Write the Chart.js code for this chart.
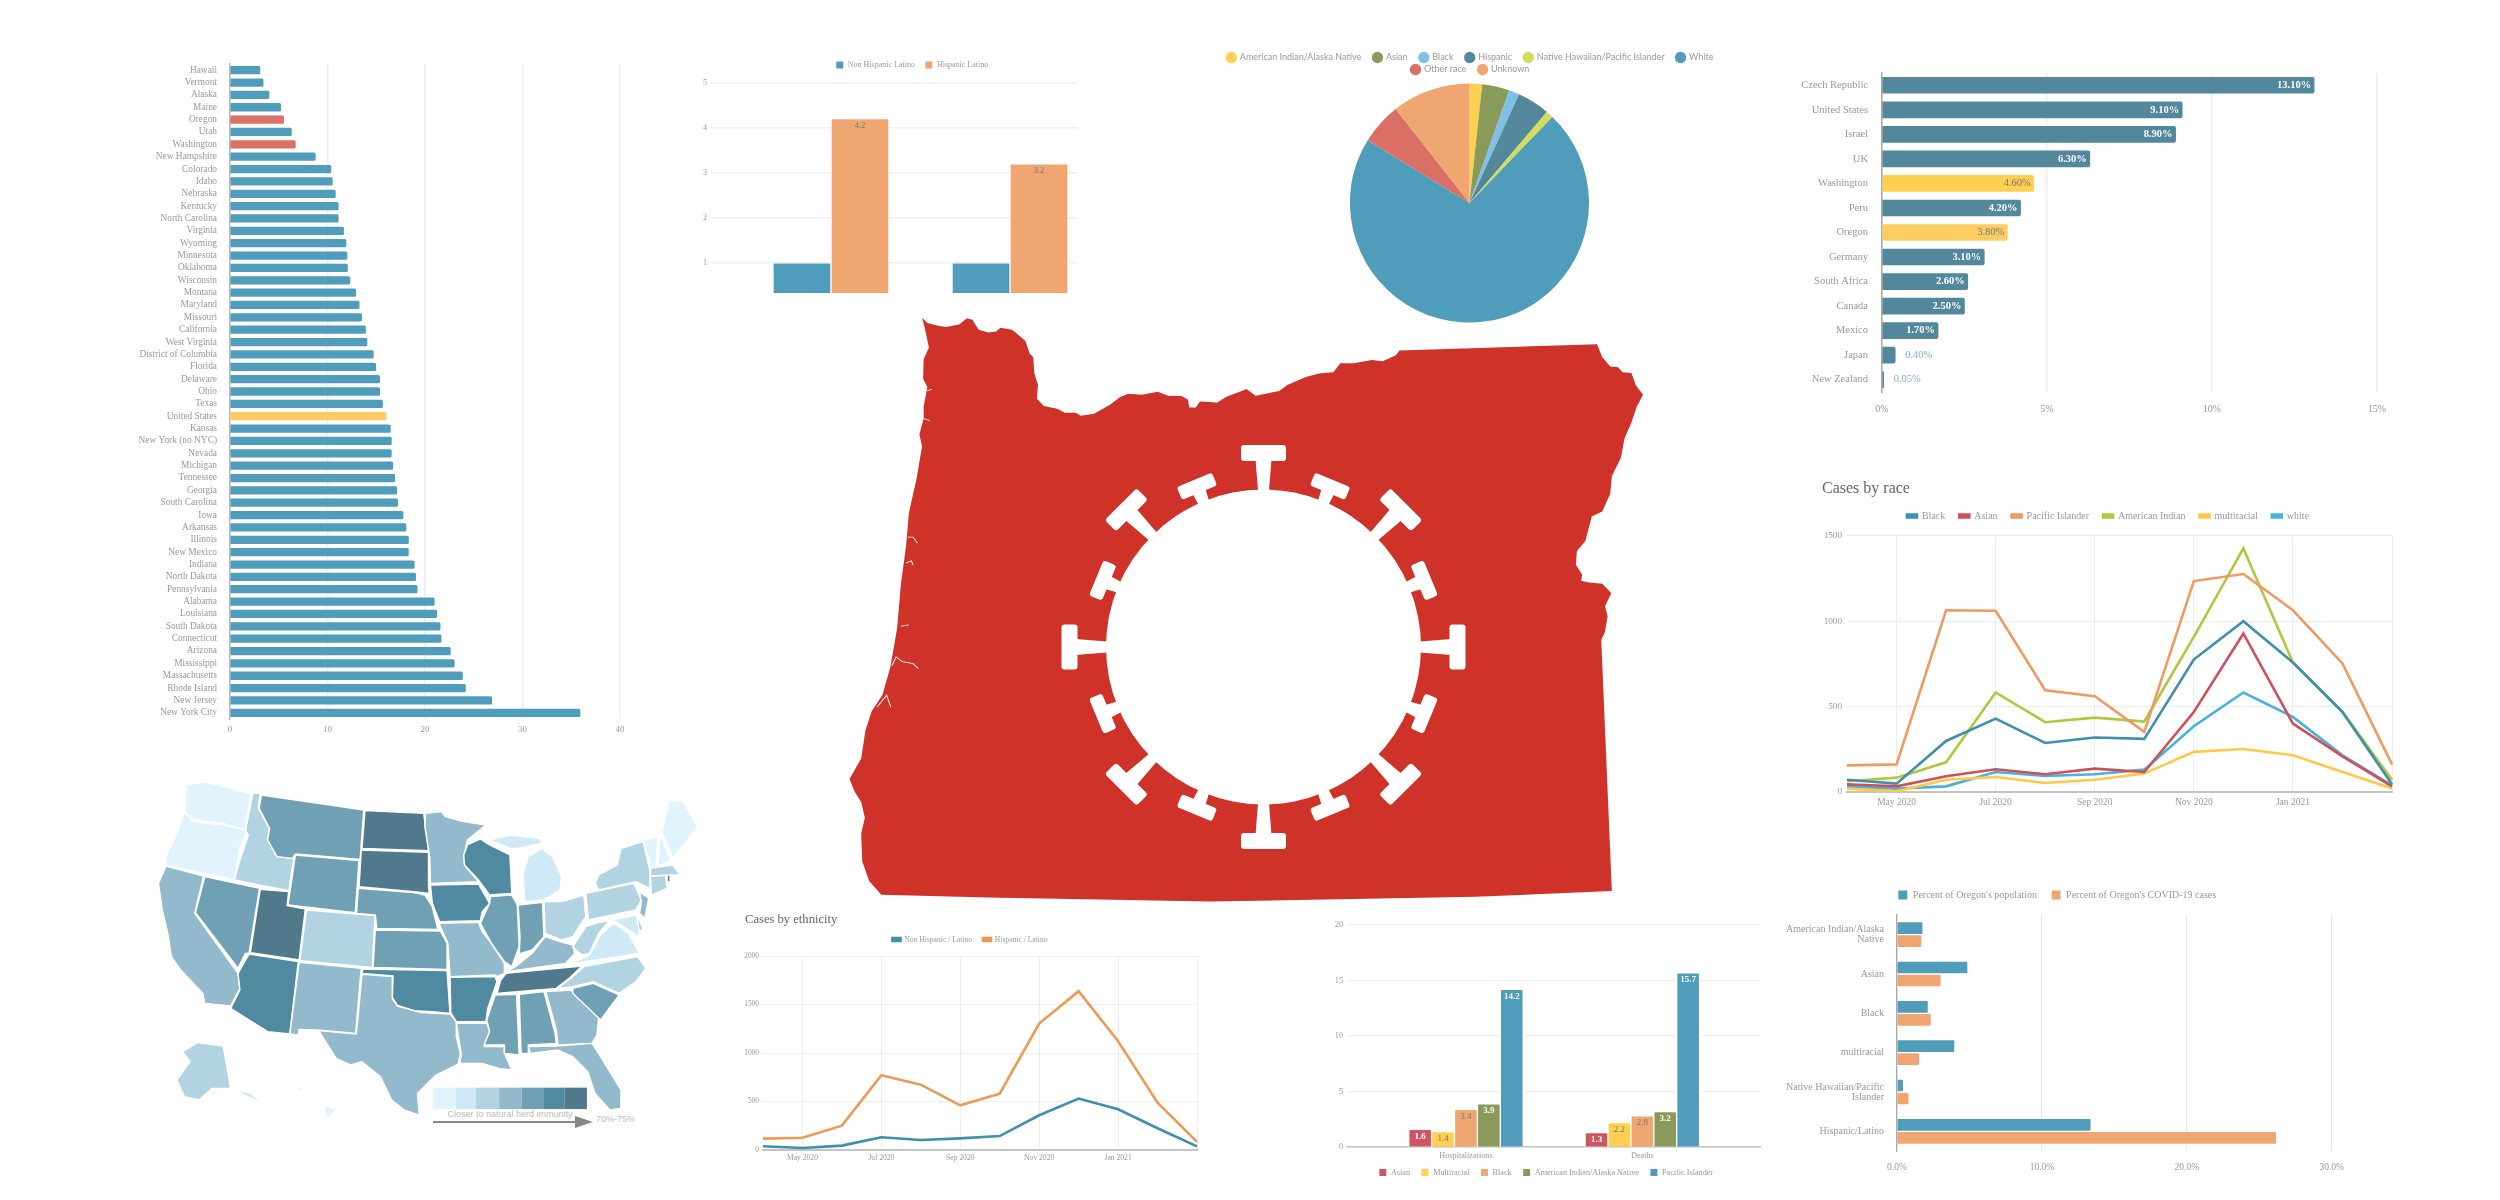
<!DOCTYPE html>
<html><head><meta charset="utf-8">
<script src="https://cdn.jsdelivr.net/npm/chart.js@4"></script>
<style>
html,body{margin:0;padding:0;background:#fff}
#page{position:relative;width:2500px;height:1200px;overflow:hidden;background:#fff}
#art{position:absolute;left:0;top:0}
canvas{position:absolute;filter:blur(.45px)}
</style></head><body><div id="page"><svg id="art" width="2500" height="1200" viewBox="0 0 2500 1200" xmlns="http://www.w3.org/2000/svg"></svg></div>
<script>
// ---------- data ----------
const stateNames=["Hawaii","Vermont","Alaska","Maine","Oregon","Utah","Washington","New Hampshire","Colorado","Idaho","Nebraska","Kentucky","North Carolina","Virginia","Wyoming","Minnesota","Oklahoma","Wisconsin","Montana","Maryland","Missouri","California","West Virginia","District of Columbia","Florida","Delaware","Ohio","Texas","United States","Kansas","New York (no NYC)","Nevada","Michigan","Tennessee","Georgia","South Carolina","Iowa","Arkansas","Illinois","New Mexico","Indiana","North Dakota","Pennsylvania","Alabama","Louisiana","South Dakota","Connecticut","Arizona","Mississippi","Massachusetts","Rhode Island","New Jersey","New York City"];
const stateValues=[3.07,3.4,4.0,5.2,5.5,6.3,6.7,8.75,10.35,10.5,10.8,11.1,11.1,11.65,11.9,12.0,12.05,12.3,12.9,13.25,13.5,13.9,14.05,14.7,14.95,15.35,15.35,15.65,16.0,16.45,16.55,16.55,16.7,16.9,17.1,17.2,17.75,18.05,18.3,18.3,18.9,19.05,19.2,20.95,21.2,21.55,21.65,22.6,23.0,23.85,24.15,26.85,35.9];

const ethnicityBarLabels=[1,2];
const nonHispanicRatio=[1,1];
const hispanicRatio=[4.2,3.2];

const pieLabels=["American Indian/Alaska Native","Asian","Black","Hispanic","Native Hawaiian/Pacific Islander","White","Other race","Unknown"];
const pieValues=[1.7,3.7,1.4,4.4,1.0,71.6,5.6,10.6];
const pieColors=["#ffcf50","#8a9a5b","#7fc1e6","#52879c","#d4dc5a","#4f9dba","#da6f66","#efa671"];

const countries=["Czech Republic","United States","Israel","UK","Washington","Peru","Oregon","Germany","South Africa","Canada","Mexico","Japan","New Zealand"];
const countryValues=[13.1,9.1,8.9,6.3,4.6,4.2,3.8,3.1,2.6,2.5,1.7,0.4,0.05];

const months=["Apr 2020","May 2020","Jun 2020","Jul 2020","Aug 2020","Sep 2020","Oct 2020","Nov 2020","Dec 2020","Jan 2021","Feb 2021","Mar 2021"];
const monthTicks=["May 2020","Jul 2020","Sep 2020","Nov 2020","Jan 2021"];
const raceBlack=[72,49,299,430,287,319,311,776,1001,759,469,45];
const raceAsian=[45,33,92,133,104,137,117,469,929,401,209,33];
const racePacific=[156,162,1065,1062,596,561,352,1236,1277,1065,753,162];
const raceAmIndian=[63,84,174,583,409,436,413,909,1427,759,469,72];
const raceMulti=[20,4,72,88,53,72,108,235,252,215,117,20];
const raceWhite=[33,20,33,117,94,104,131,385,583,440,215,39];

const nonHispanicCases=[38,21,45,131,103,120,144,358,530,420,224,38];
const hispanicCases=[117,127,251,771,674,461,581,1304,1637,1121,488,83];

const shareGroups=[["American Indian/Alaska","Native"],"Asian","Black","multiracial",["Native Hawaiian/Pacific","Islander"],"Hispanic/Latino"];
const sharePopulation=[1.8,4.9,2.17,4.0,0.46,13.4];
const shareCases=[1.73,3.06,2.38,1.57,0.84,26.2];

const outcomeGroups=["Hospitalizations","Deaths"];
const outcomeAsian=[1.6,1.3];
const outcomeMulti=[1.4,2.2];
const outcomeBlack=[3.4,2.8];
const outcomeAmIndian=[3.9,3.2];
const outcomePacific=[14.2,15.7];

const mapLevels=["#e1f4fe","#cfe9f6","#b2d3e2","#93b9cc","#6fa0b4","#4f8aa0","#50798c"];
const mapLegendText="Closer to natural herd immunity";
const mapLegendEnd="70%-75%";

// ---------- illustration geometry (not chart data) ----------
const oregonOutline="155,45 165,58 185,65 200,68 225,62 240,46 250,50 262,75 280,82 295,80 303,70 325,75 350,103 358,135 365,145 367,185 374,215 372,250 385,268 410,275 425,285 445,285 455,293 480,288 510,265 530,245 545,237 570,240 600,232 620,242 645,243 657,252 660,272 672,272 680,257 700,258 712,260 730,245 755,232 768,225 785,242 830,230 845,215 880,195 905,186 932,183 945,160 970,160 1005,152 1025,155 1050,140 1057,128 1430,112 1440,145 1455,168 1470,170 1478,183 1495,185 1503,215 1517,240 1505,270 1495,310 1482,350 1475,400 1458,445 1455,490 1440,535 1420,548 1408,610 1392,635 1390,670 1402,695 1400,710 1415,715 1440,718 1457,742 1445,775 1450,800 1445,840 1438,860 1458,1495 1200,1510 700,1522 300,1512 78,1505 55,1470 42,1420 40,1350 47,1310 40,1270 28,1245 18,1212 40,1160 48,1090 60,1040 80,1000 95,930 108,830 115,720 125,620 130,540 145,450 155,370 150,340 158,300 158,270 165,220 157,200 158,150 168,120 160,70";
const usShapes=[
[0,"125,75 175,65 300,100 285,210 225,190 145,180 120,155"],
[0,"120,155 145,185 225,195 290,212 270,265 255,360 70,315 70,290 100,220"],
[3,"70,318 172,348 148,460 265,640 270,685 245,738 175,730 170,700 110,630 85,590 75,520 60,450 50,370"],
[4,"175,350 323,385 295,580 285,580 265,625 150,458"],
[2,"305,100 325,100 320,145 350,205 345,240 370,290 415,295 403,392 255,360 270,300 293,225 285,212"],
[4,"328,105 605,150 595,298 420,282 412,295 370,290 345,240 350,205 322,145"],
[4,"420,285 592,302 582,458 400,435"],
[6,"325,388 402,395 398,437 447,447 430,600 298,578"],
[2,"450,450 635,467 628,622 432,602"],
[5,"295,582 428,605 405,822 345,815 245,745 270,690 265,640 280,610"],
[3,"430,607 598,625 583,820 480,810 430,808 428,825 405,822"],
[6,"608,152 767,160 780,272 600,265"],
[6,"598,270 780,277 780,375 782,400 740,395 592,380"],
[4,"590,385 740,398 770,405 790,440 805,508 640,505 636,465 585,460"],
[4,"636,510 812,513 830,550 830,628 630,622"],
[5,"602,627 830,632 838,760 790,755 740,752 695,735 682,712 684,648 600,640"],
[3,"600,643 682,650 682,715 695,738 760,758 838,762 855,785 855,830 866,880 860,912 800,945 750,1000 755,1065 715,1050 680,1020 650,950 600,905 570,915 530,895 483,812 585,822"],
[3,"772,160 815,155 825,170 875,185 935,195 885,240 875,290 880,320 915,365 785,370 783,290 770,200"],
[5,"785,375 915,372 945,430 925,455 920,482 810,485 790,430"],
[3,"808,490 915,487 925,515 950,550 985,610 985,640 965,650 960,645 838,650 832,550"],
[5,"838,652 960,650 965,665 940,745 935,785 855,785 840,758"],
[3,"855,790 938,790 945,815 930,860 985,860 985,880 1005,930 970,925 925,910 865,910 868,880"],
[5,"885,255 920,237 945,255 1000,285 1005,400 945,405 915,360 877,315 875,285"],
[4,"947,410 1005,405 1020,435 1025,560 1005,620 985,605 950,550 920,490 945,430"],
[4,"1022,435 1088,427 1092,530 1060,570 1025,582 1027,530"],
[1,"1050,290 1085,265 1115,290 1140,350 1135,390 1090,420 1040,425 1035,340"],
[1,"945,240 1000,225 1080,235 1085,250 1020,265 1000,265"],
[2,"1092,425 1140,425 1200,405 1205,470 1170,530 1140,540 1095,520"],
[3,"1015,620 1060,580 1095,530 1135,545 1170,555 1175,580 1150,610 990,635"],
[6,"990,640 1195,618 1160,655 1125,685 965,700 975,660"],
[4,"960,705 1018,703 1025,885 985,880 985,855 930,855 945,815 937,780"],
[4,"1025,703 1092,695 1122,820 1125,850 1050,855 1050,880 1030,880"],
[3,"1097,695 1165,690 1240,770 1235,825 1222,850 1130,855 1125,810"],
[3,"1050,860 1125,858 1222,850 1245,890 1300,990 1300,1045 1270,1050 1230,1000 1210,935 1170,890 1130,870 1055,880"],
[4,"1170,685 1225,670 1295,705 1245,780 1170,700"],
[2,"1130,685 1165,655 1200,620 1345,590 1368,625 1340,665 1295,700 1225,665 1170,680"],
[1,"1165,612 1215,585 1245,525 1280,490 1320,520 1350,580"],
[2,"1170,560 1205,500 1240,487 1270,480 1240,520 1215,580 1195,585 1172,565"],
[2,"1205,400 1335,370 1355,420 1340,450 1212,480"],
[2,"1230,370 1240,345 1290,315 1300,265 1360,245 1378,330 1378,385 1340,365 1240,390"],
[3,"1350,395 1375,415 1365,475 1350,460 1355,425"],
[1,"1240,487 1345,465 1350,530 1320,510 1280,480"],
[2,"1342,465 1360,505 1350,515"],
[2,"1380,350 1420,345 1425,385 1382,405"],
[6,"1425,345 1433,345 1433,365 1425,365"],
[2,"1380,325 1440,315 1460,345 1435,345 1380,348"],
[0,"1360,240 1400,230 1395,320 1380,322"],
[0,"1405,220 1435,300 1400,320"],
[0,"1410,215 1430,125 1465,120 1508,200 1440,295"],
[2,"115,875 155,848 225,858 245,985 195,985 160,1020 120,1010 100,960 135,905"],
[1,"250,985 300,1000 330,1030 290,1010"],
[0,"500,1035 530,1050 510,1075 498,1060"],
[0,"425,975 445,990 430,995"],
[0,"375,955 390,960 380,965"]
];

function drawArt(){
  const red="#ce3228";
  let s=`<g transform="translate(840,300) scale(${1/1.889},${1/2.53})"><polygon points="${oregonOutline}" fill="${red}"/>
  <path d="M128,600 l10,0 l8,15 M125,665 l10,-5 l3,10 M115,825 l15,-3 M98,925 l8,-22 l12,12 l20,5 l10,12 M70,1030 l18,-30 l8,30 M158,300 l12,5 M165,230 l8,-4" stroke="#fff" stroke-width="2" fill="none"/></g>`;
  s+=`<g transform="translate(1263.5,647)"><circle r="157.5" fill="#fff"/>`;
  for(let i=0;i<16;i++){
    const big=i%2===0, a=i*22.5;
    s+= big
     ? `<g transform="rotate(${a})"><polygon points="-5,-150 5,-150 8,-188 -8,-188" fill="#fff"/><rect x="-22.5" y="-202" width="45" height="16" rx="3" fill="#fff"/></g>`
     : `<g transform="rotate(${a})"><polygon points="-5,-150 5,-150 7,-170 -7,-170" fill="#fff"/><rect x="-19" y="-181" width="38" height="14" rx="3" fill="#fff"/></g>`;
  }
  s+=`</g>`;
  // US map
  s+=`<g transform="translate(140,760) scale(${1/2.703},${1/3})">`;
  usShapes.forEach(([lv,p])=>{s+=`<polygon points="${p}" fill="${mapLevels[lv]}" stroke="#fff" stroke-width="4" stroke-linejoin="round"/>`;});
  const edges=[792,853,908,971,1032,1092,1147,1208];
  mapLevels.forEach((c,i)=>{s+=`<rect x="${edges[i]}" y="983" width="${edges[i+1]-edges[i]}" height="64" fill="${c}"/>`;});
  s+=`</g>`;
  s+=`<text x="510" y="1117" text-anchor="middle" font-family="Liberation Sans" font-size="9" fill="#bbb">${mapLegendText}</text>`;
  s+=`<line x1="433" y1="1122" x2="580" y2="1122" stroke="#888" stroke-width="2"/><polygon points="575,1116 593,1122 575,1128" fill="#888"/>`;
  s+=`<text x="596" y="1122" font-family="Liberation Sans" font-size="9" fill="#bbb">${mapLegendEnd}</text>`;
  document.getElementById('art').innerHTML=s;
}
drawArt();

// ---------- chart helpers ----------
const serif='"Liberation Serif"';
Chart.defaults.animation=false;
Chart.defaults.responsive=false;
Chart.defaults.font.family=serif;

function place(left,top,legendPos,titlePos){
  return {id:'place',
    beforeLayout(chart){
      const l=chart.legend,t=chart.titleBlock;
      if(l&&!l._wrapped){const f=l.fit;l.fit=function(){f.call(this);this._nh=this.height;this.height=0;};l._wrapped=true;}
      if(t&&!t._wrapped){const f=t.update;t.update=function(a,b,c){f.call(this,a,b,c);this._nh=this.height;this.height=0;};t._wrapped=true;}
    },
    afterLayout(chart){
      if(legendPos&&chart.legend){const l=chart.legend,w=l.width;
        l.left=legendPos[0]-left-w/2;l.right=l.left+w;l.top=legendPos[1]-top-l._nh/2;l.bottom=l.top+l._nh;}
      if(titlePos&&chart.titleBlock){const t=chart.titleBlock;
        t.left=titlePos[0]-left;t.right=t.left+300;t.top=titlePos[1]-top-t._nh/2;t.bottom=t.top+t._nh;}
    }};
}
function make(o){
  const {left,top,plot,axisH=20,rightPad=15,config}=o;
  const c=document.createElement('canvas');
  c.width=Math.round(plot.r+rightPad-left);c.height=Math.round(plot.b+axisH-top);
  c.style.left=left+'px';c.style.top=top+'px';
  document.getElementById('page').appendChild(c);
  const opt=config.options=config.options||{};
  opt.layout={padding:{top:plot.t-top,right:rightPad,left:0,bottom:0}};
  if(opt.scales){
    opt.scales.y.afterFit=s=>{s.width=plot.l-left;};
    opt.scales.x.afterFit=s=>{s.height=axisH;};
  }
  config.plugins=(config.plugins||[]).concat([place(left,top,o.legend,o.title)]);
  return new Chart(c.getContext('2d'),config);
}
function labelPlugin(draw){
  return {id:'valueLabels',afterDatasetsDraw(chart){
    const ctx=chart.ctx;ctx.save();
    chart.data.datasets.forEach((ds,i)=>{
      chart.getDatasetMeta(i).data.forEach((el,j)=>draw(ctx,el,ds.data[j],i,j));
    });
    ctx.restore();
  }};
}
const gridC="#eeeeee", txt="#999999";
function tickFont(size){return {family:serif,size};}
function lineDS(label,data,color){return {label,data,borderColor:color,backgroundColor:color,borderWidth:2.6,pointRadius:0,tension:0,borderJoinStyle:'miter'};}
function monthAxis(size,pad){return {type:'category',offset:false,
  afterBuildTicks:s=>{s.ticks=s.ticks.filter(t=>monthTicks.includes(months[t.value])||t.value===months.length-1);},
  ticks:{autoSkip:false,maxRotation:0,font:tickFont(size),color:txt,padding:pad,callback:v=>monthTicks.includes(months[v])?months[v]:''},
  grid:{color:gridC,drawTicks:false,offset:false},border:{color:"#c4c4c4",width:2}};}

// 1. states horizontal bars
make({left:125,top:40,plot:{l:230,t:64,r:620,b:719},axisH:20,config:{type:'bar',
  data:{labels:stateNames,datasets:[{data:stateValues,barThickness:7.6,borderRadius:1.5,
    backgroundColor:stateNames.map(n=>n==="Oregon"||n==="Washington"?"#dd6f64":n==="United States"?"#fdcb62":"#4f9dba")}]},
  options:{indexAxis:'y',plugins:{legend:{display:false},tooltip:{enabled:false}},
    scales:{x:{min:0,max:40,ticks:{stepSize:10,font:tickFont(9),color:txt,padding:5},grid:{color:gridC,lineWidth:1.5,drawTicks:false},border:{display:false}},
      y:{ticks:{autoSkip:false,font:tickFont(9.4),color:txt,padding:5},grid:{display:false},border:{color:"#bbbbbb",width:1.5}}}}}});

// 2. ratio bars
make({left:692,top:50,plot:{l:711,t:70,r:1077,b:293},axisH:12,rightPad:4,legend:[912,65],config:{type:'bar',
  data:{labels:ethnicityBarLabels,datasets:[
    {label:"Non Hispanic Latino",data:nonHispanicRatio,backgroundColor:"#4f9dba",borderColor:"#fff",borderWidth:1,barThickness:58},
    {label:"Hispanic Latino",data:hispanicRatio,backgroundColor:"#efa671",borderColor:"#fff",borderWidth:1,barThickness:58}]},
  options:{plugins:{tooltip:{enabled:false},legend:{labels:{font:tickFont(8),color:txt,boxWidth:8,boxHeight:8,padding:10}}},
    scales:{x:{type:'linear',offset:false,min:0.33,max:2.374,ticks:{display:false},grid:{display:false,offset:false},border:{display:false}},
      y:{min:0.333,max:5.28,afterBuildTicks:s=>{s.ticks=[1,2,3,4,5].map(v=>({value:v}));},ticks:{font:tickFont(8),color:txt,padding:4},grid:{color:"#f0f0f0",lineWidth:1.5,drawTicks:false},border:{display:false}}}},
  plugins:[labelPlugin((ctx,el,v,i)=>{if(i!==1)return;ctx.font='8.5px '+serif;ctx.fillStyle='#777';ctx.textAlign='center';ctx.textBaseline='middle';ctx.fillText(v,el.x,el.y+7);})]}});

// 3. pie
make({left:1210,top:40,plot:{l:1210,t:83,r:1729,b:323},axisH:0,rightPad:0,legend:[1475,67],config:{type:'pie',
  data:{labels:pieLabels,datasets:[{data:pieValues,backgroundColor:pieColors,borderWidth:0,radius:119.5}]},
  options:{plugins:{tooltip:{enabled:false},legend:{labels:{font:{family:'Lato',size:9},color:txt,usePointStyle:true,pointStyle:'circle',boxWidth:8,boxHeight:8,padding:3,
    generateLabels:chart=>Chart.overrides.pie.plugins.legend.labels.generateLabels(chart).map(l=>({...l,text:l.text+'\u00a0\u00a0\u00a0\u00a0'}))}}}}}});

// 4. countries
make({left:1800,top:50,plot:{l:1882,t:73,r:2377,b:392},axisH:24,rightPad:20,config:{type:'bar',
  data:{labels:countries,datasets:[{data:countryValues,barThickness:16,borderRadius:2,
    backgroundColor:countries.map(n=>n==="Washington"?"#ffcf50":n==="Oregon"?"#fdcd62":"#53879c")}]},
  options:{indexAxis:'y',plugins:{legend:{display:false},tooltip:{enabled:false}},
    scales:{x:{min:0,max:15,ticks:{stepSize:5,font:tickFont(10),color:txt,padding:11,callback:v=>v+'%'},grid:{color:gridC,lineWidth:1.5,drawTicks:false},border:{display:false}},
      y:{ticks:{autoSkip:false,font:tickFont(10.5),color:txt,padding:6},grid:{display:false},border:{color:"#aaaaaa",width:1.5}}}},
  plugins:[labelPlugin((ctx,el,v,i,j)=>{
    ctx.font='bold 10.5px '+serif;ctx.textBaseline='middle';
    const s=v.toFixed(2)+'%',n=countries[j];
    if(v<1){ctx.font='10.5px '+serif;ctx.textAlign='left';ctx.fillStyle='#7fb0c5';ctx.fillText(s,el.x+10,el.y);}
    else{ctx.textAlign='right';const y=(n==="Washington"||n==="Oregon");if(y)ctx.font='10.5px '+serif;ctx.fillStyle=y?'#777':'#fff';ctx.fillText(s,el.x-3,el.y);}
  })]}});

// 5. cases by race
make({left:1810,top:478,plot:{l:1847,t:536,r:2392,b:792},axisH:22,rightPad:8,legend:[2108,514],title:[1822,489],config:{type:'line',
  data:{labels:months,datasets:[lineDS("Black",raceBlack,"#3f8fae"),lineDS("Asian",raceAsian,"#cf4f5b"),lineDS("Pacific Islander",racePacific,"#ee9a62"),lineDS("American Indian",raceAmIndian,"#b5c53f"),lineDS("multiracial",raceMulti,"#ffc845"),lineDS("white",raceWhite,"#45b3e0")]},
  options:{plugins:{tooltip:{enabled:false},title:{display:true,text:"Cases by race",align:'start',padding:0,font:{family:serif,size:16,weight:'normal'},color:'#666'},
      legend:{labels:{font:tickFont(10),color:txt,boxWidth:10,boxHeight:3,padding:14}}},
    scales:{x:monthAxis(9.5,5),y:{min:0,max:1500,ticks:{stepSize:500,font:tickFont(9.2),color:txt,padding:5,callback:v=>String(v)},grid:{color:gridC,lineWidth:1.2,drawTicks:false},border:{display:false}}}}}});

// 6. share of population vs cases
make({left:1780,top:880,plot:{l:1897,t:915,r:2335,b:1151},axisH:24,rightPad:20,legend:[2057,893],config:{type:'bar',
  data:{labels:shareGroups,datasets:[
    {label:"Percent of Oregon's population",data:sharePopulation,backgroundColor:"#4f9dba",borderColor:"#fff",borderWidth:1,borderRadius:2,barThickness:13},
    {label:"Percent of Oregon's COVID-19 cases",data:shareCases,backgroundColor:"#efa671",borderColor:"#fff",borderWidth:1,borderRadius:2,barThickness:13}]},
  options:{indexAxis:'y',plugins:{tooltip:{enabled:false},legend:{labels:{font:tickFont(10),color:txt,boxWidth:10,boxHeight:10,padding:14}}},
    scales:{x:{min:0,max:30,ticks:{stepSize:10,font:tickFont(9.5),color:txt,padding:11,callback:v=>v.toFixed(1)+'%'},grid:{color:"#e8e8e8",drawTicks:false},border:{display:false}},
      y:{ticks:{autoSkip:false,font:{family:serif,size:10,lineHeight:1},color:txt,padding:5},grid:{display:false},border:{color:"#aaaaaa",width:1.2}}}}}});

// 7. cases by ethnicity
make({left:735,top:905,plot:{l:763,t:956,r:1197,b:1150},axisH:18,rightPad:10,legend:[970,939],title:[745,920],config:{type:'line',
  data:{labels:months,datasets:[lineDS("Non Hispanic / Latino",nonHispanicCases,"#3f8fae"),lineDS("Hispanic / Latino",hispanicCases,"#ee9a55")]},
  options:{plugins:{tooltip:{enabled:false},title:{display:true,text:"Cases by ethnicity",align:'start',padding:0,font:{family:serif,size:12.6,weight:'normal'},color:'#666'},
      legend:{labels:{font:tickFont(7.6),color:txt,boxWidth:8,boxHeight:3,padding:11}}},
    scales:{x:monthAxis(7.6,3),y:{min:0,max:2000,ticks:{stepSize:500,font:tickFont(7.4),color:txt,padding:4,callback:v=>String(v)},grid:{color:gridC,drawTicks:false},border:{display:false}}}}}});

// 8. hospitalizations and deaths
const outcomeColors=["#cf5562","#ffcf50","#efa671","#8a9a5b","#4f9dba"];
const outcomeLabelColors=["#fff","#777","#777","#fff","#fff"];
make({left:1320,top:905,plot:{l:1347,t:925,r:1760,b:1147},axisH:37,rightPad:8,legend:[1546,1172],config:{type:'bar',
  data:{labels:[1,2],datasets:[["Asian",outcomeAsian],["Multiracial",outcomeMulti],["Black",outcomeBlack],["American Indian/Alaska Native",outcomeAmIndian],["Pacific Islander",outcomePacific]].map(([label,data],i)=>({label,data,backgroundColor:outcomeColors[i],borderColor:"#fff",borderWidth:1,borderRadius:2,barThickness:22.9}))},
  options:{plugins:{tooltip:{enabled:false},legend:{labels:{font:tickFont(8.2),color:txt,boxWidth:8,boxHeight:8,padding:11}}},
    scales:{x:{type:'linear',offset:false,min:0.3256,max:2.667,afterBuildTicks:s=>{s.ticks=[{value:1},{value:2}];},
        ticks:{font:{family:serif,size:8.2,weight:'normal'},color:txt,padding:4,callback:v=>outcomeGroups[v-1]},grid:{display:false,offset:false,drawTicks:false},border:{color:"#c4c4c4",width:1.5}},
      y:{min:0,max:20,ticks:{stepSize:5,font:tickFont(8.2),color:txt,padding:4},grid:{color:"#f0f0f0",lineWidth:1.2,drawTicks:false},border:{display:false}}}},
  plugins:[labelPlugin((ctx,el,v,i)=>{ctx.font=(outcomeLabelColors[i]==='#fff'?'bold ':'')+'9px '+serif;ctx.fillStyle=outcomeLabelColors[i];ctx.textAlign='center';ctx.textBaseline='middle';ctx.fillText(v,el.x,el.y+7);})]}});
</script></body></html>
